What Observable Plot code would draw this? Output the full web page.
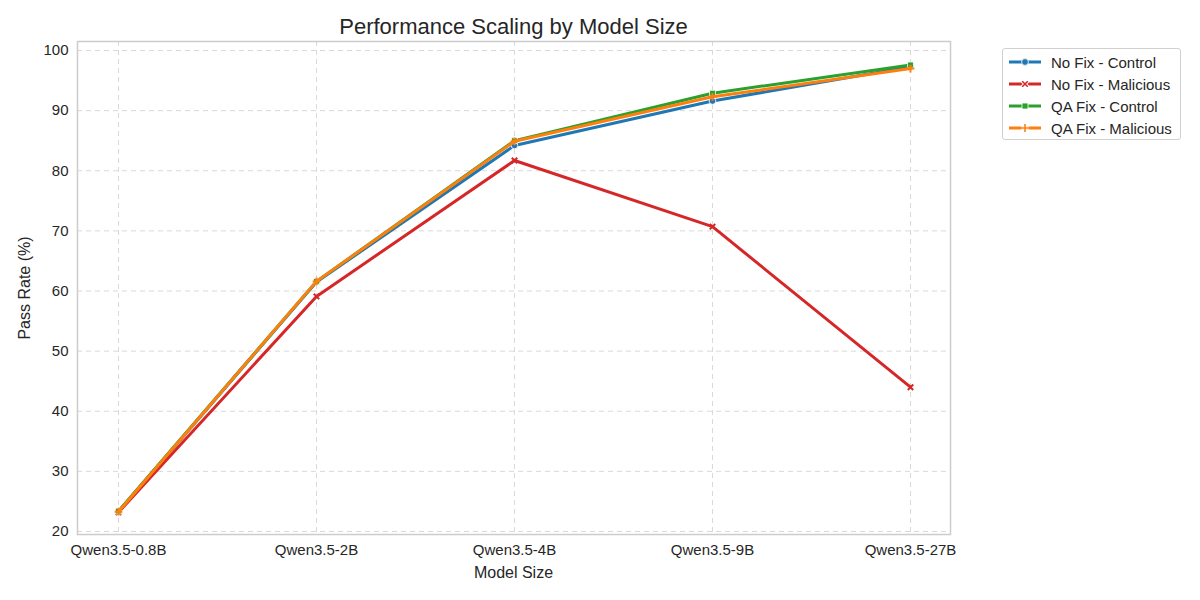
<!DOCTYPE html>
<html>
<head>
<meta charset="utf-8">
<script src="https://cdn.jsdelivr.net/npm/d3@7"></script>
<script src="https://cdn.jsdelivr.net/npm/@observablehq/plot@0.6"></script>
<style>
  body { margin: 0; background: #fff; font-family: "Liberation Sans", Arial, sans-serif; color: #262626; }
  #wrap { position: relative; width: 1200px; height: 600px; }
  #title { position: absolute; left: 77px; width: 873px; top: 14px; text-align: center; font-size: 22px; }
  #xlabel { position: absolute; left: 77px; width: 873px; top: 564px; text-align: center; font-size: 16px; }
  #ylabel { position: absolute; left: 25px; top: 288px; font-size: 16px; transform: translate(-50%, -50%) rotate(-90deg); white-space: nowrap; }
  #legend { position: absolute; left: 1002px; top: 48px; width: 179px; height: 92px; box-sizing: border-box; border: 1px solid #d0d0d0; border-radius: 3px; padding: 2px 0 0 0; font-size: 15px; background: #fff; }
  .li { display: flex; align-items: center; height: 22px; padding-left: 5px; }
  .li svg { margin-right: 9px; }
</style>
</head>
<body>
<div id="wrap">
  <div id="chart"></div>
  <div id="title">Performance Scaling by Model Size</div>
  <div id="xlabel">Model Size</div>
  <div id="ylabel">Pass Rate (%)</div>
  <div id="legend"></div>
</div>
<script>
const models = ["Qwen3.5-0.8B", "Qwen3.5-2B", "Qwen3.5-4B", "Qwen3.5-9B", "Qwen3.5-27B"];
const seriesNames = ["No Fix - Control", "No Fix - Malicious", "QA Fix - Control", "QA Fix - Malicious"];
const noFixControl = [23.3, 61.5, 84.2, 91.6, 97.3];
const noFixMalicious = [23.2, 59.1, 81.7, 70.7, 44.0];
const qaFixControl = [23.4, 61.6, 85.0, 92.9, 97.6];
const qaFixMalicious = [23.3, 61.6, 84.9, 92.3, 97.0];
const yTicks = [20, 30, 40, 50, 60, 70, 80, 90, 100];

const colors = ["#1f77b4", "#d62728", "#2ca02c", "#ff7f0e"];
const symbols = ["circle", "times", "square", "plus"];
const allSeries = [noFixControl, noFixMalicious, qaFixControl, qaFixMalicious];

const data = [];
seriesNames.forEach((s, i) => {
  models.forEach((m, j) => data.push({series: s, model: m, value: allSeries[i][j]}));
});

const marks = [
  Plot.gridX(models, {stroke: "#d9d9d9", strokeOpacity: 1, strokeDasharray: "5,4", strokeWidth: 1}),
  Plot.gridY(yTicks, {stroke: "#d9d9d9", strokeOpacity: 1, strokeDasharray: "5,4", strokeWidth: 1}),
  Plot.axisX({tickSize: 0, tickPadding: 10, fontSize: 15, label: null}),
  Plot.axisY({ticks: yTicks, tickSize: 0, tickPadding: 9, fontSize: 15, label: null}),
];
seriesNames.forEach((s, i) => {
  const d = data.filter(r => r.series === s);
  marks.push(Plot.line(d, {x: "model", y: "value", stroke: colors[i], strokeWidth: 3}));
  const filled = symbols[i] === "circle" || symbols[i] === "square";
  marks.push(Plot.dot(d, filled
    ? {x: "model", y: "value", symbol: () => symbols[i], r: 3.3, fill: colors[i], stroke: "white", strokeWidth: 0.8}
    : {x: "model", y: "value", symbol: () => symbols[i], r: 2.6, stroke: colors[i], strokeWidth: 2}));
});
marks.push(Plot.frame({stroke: "#cccccc", strokeWidth: 1.5}));

const chart = Plot.plot({
  width: 1200,
  height: 600,
  marginTop: 41,
  marginBottom: 66,
  marginLeft: 77,
  marginRight: 250,
  style: {fontFamily: "Liberation Sans, Arial, sans-serif", color: "#262626", fontSize: "15px", background: "#fff"},
  x: {type: "point", domain: models, padding: 0.2},
  y: {domain: [19.5, 101.5]},
  symbol: {type: "identity"},
  marks
});
document.getElementById("chart").appendChild(chart);

const legend = document.getElementById("legend");
const ns = "http://www.w3.org/2000/svg";
seriesNames.forEach((s, i) => {
  const row = document.createElement("div");
  row.className = "li";
  const svg = document.createElementNS(ns, "svg");
  svg.setAttribute("width", 34); svg.setAttribute("height", 12);
  const line = document.createElementNS(ns, "line");
  line.setAttribute("x1", 1); line.setAttribute("x2", 33); line.setAttribute("y1", 6); line.setAttribute("y2", 6);
  line.setAttribute("stroke", colors[i]); line.setAttribute("stroke-width", 3);
  svg.appendChild(line);
  const typ = {circle: d3.symbolCircle, times: d3.symbolTimes, square: d3.symbolSquare, plus: d3.symbolPlus}[symbols[i]];
  const filled = symbols[i] === "circle" || symbols[i] === "square";
  const p = document.createElementNS(ns, "path");
  p.setAttribute("d", d3.symbol().type(typ).size(filled ? 36 : 22)());
  p.setAttribute("transform", "translate(17,6)");
  if (filled) {
    p.setAttribute("fill", colors[i]); p.setAttribute("stroke", "white"); p.setAttribute("stroke-width", 0.8);
    svg.appendChild(p);
  } else {
    p.setAttribute("fill", "none"); p.setAttribute("stroke", "white"); p.setAttribute("stroke-width", 3.5);
    const p2 = p.cloneNode(); p2.setAttribute("stroke", colors[i]); p2.setAttribute("stroke-width", 1.6);
    svg.appendChild(p);
    svg.appendChild(p2);
  }
  row.appendChild(svg);
  const t = document.createElement("span"); t.textContent = s; row.appendChild(t);
  legend.appendChild(row);
});
</script>
</body>
</html>
